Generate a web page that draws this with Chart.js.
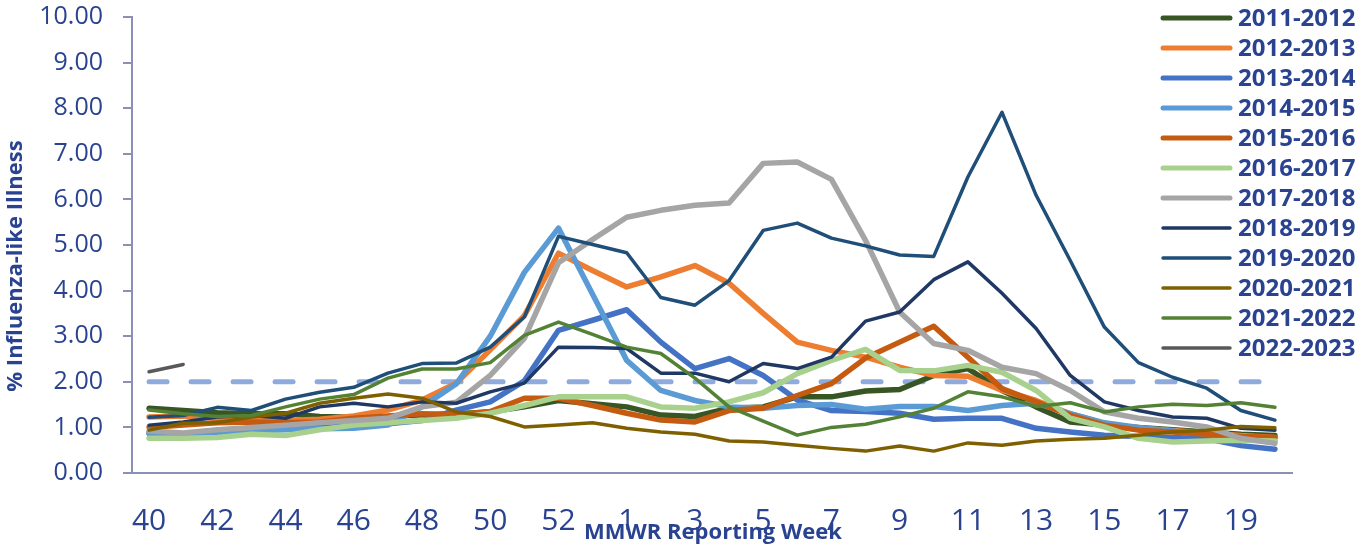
<!DOCTYPE html>
<html lang="en">
<head>
    <meta charset="UTF-8">
    <title>% Influenza-like Illness by MMWR Week</title>
    <script src="https://cdn.jsdelivr.net/npm/chart.js"></script>
    <style>
        html, body { margin: 0; padding: 0; background: #fff; }
        canvas { display: block; }
    </style>
</head>
<body>
<canvas id="iliChart" width="1359" height="546"></canvas>

<script>
    // MMWR weeks 40..53, 1..20
    const weeks = ['40','41','42','43','44','45','46','47','48','49','50','51','52','53',
                   '1','2','3','4','5','6','7','8','9','10','11','12','13','14','15','16','17','18','19','20'];

    const s1112 = [1.42,1.37,1.32,1.30,1.30,1.24,1.22,1.24,1.28,1.30,1.34,1.45,1.59,1.52,
                   1.45,1.27,1.24,1.42,1.45,1.67,1.67,1.80,1.83,2.14,2.29,1.81,1.45,1.12,1.05,1.00,0.95,0.90,0.85,0.82];
    const s1213 = [1.23,1.25,1.20,1.17,1.15,1.18,1.25,1.38,1.60,1.97,2.70,3.45,4.82,4.44,
                   4.08,4.30,4.55,4.16,3.50,2.87,2.69,2.54,2.32,2.14,2.12,1.81,1.59,1.30,1.09,0.98,0.93,0.88,0.82,0.78];
    const s1314 = [0.87,0.86,0.90,0.94,0.98,1.00,1.03,1.08,1.15,1.38,1.56,2.02,3.13,3.35,
                   3.58,2.87,2.29,2.51,2.14,1.60,1.37,1.35,1.31,1.18,1.20,1.20,0.98,0.90,0.83,0.80,0.78,0.75,0.60,0.52];
    const s1415 = [0.87,0.85,0.88,0.92,0.95,0.97,0.98,1.05,1.45,1.95,3.00,4.40,5.37,3.92,
                   2.47,1.81,1.59,1.45,1.42,1.48,1.50,1.40,1.46,1.46,1.37,1.48,1.53,1.30,1.10,1.00,0.92,0.85,0.76,0.70];
    const s1516 = [1.00,1.05,1.10,1.12,1.10,1.12,1.20,1.25,1.30,1.28,1.35,1.64,1.64,1.48,
                   1.31,1.16,1.12,1.37,1.42,1.70,1.96,2.52,2.87,3.22,2.54,1.85,1.56,1.27,1.05,0.94,0.90,0.85,0.80,0.78];
    const s1617 = [0.76,0.76,0.78,0.85,0.82,0.95,1.05,1.10,1.15,1.20,1.31,1.48,1.67,1.67,
                   1.67,1.45,1.42,1.56,1.76,2.18,2.47,2.71,2.25,2.24,2.36,2.21,1.81,1.20,1.01,0.76,0.68,0.70,0.72,0.70];
    const s1718 = [0.92,0.88,0.95,1.00,1.05,1.10,1.15,1.20,1.45,1.55,2.14,2.95,4.61,5.12,
                   5.61,5.76,5.87,5.92,6.79,6.82,6.44,5.10,3.53,2.84,2.69,2.32,2.18,1.81,1.34,1.20,1.12,1.01,0.76,0.65];
    const s1819 = [1.05,1.12,1.23,1.26,1.20,1.45,1.53,1.45,1.56,1.53,1.78,1.97,2.76,2.75,
                   2.73,2.19,2.19,2.00,2.40,2.29,2.54,3.33,3.53,4.24,4.63,3.94,3.17,2.14,1.56,1.37,1.23,1.20,0.98,0.94];
    const s1920 = [1.22,1.26,1.44,1.37,1.62,1.77,1.88,2.19,2.40,2.41,2.76,3.42,5.19,5.01,
                   4.83,3.85,3.68,4.22,5.32,5.48,5.15,4.98,4.78,4.75,6.49,7.91,6.09,4.66,3.20,2.42,2.10,1.86,1.37,1.16];
    const s2021 = [0.94,1.09,1.10,1.23,1.31,1.53,1.64,1.73,1.64,1.34,1.24,1.01,1.05,1.10,
                   0.98,0.90,0.85,0.70,0.68,0.61,0.54,0.48,0.59,0.48,0.66,0.61,0.70,0.74,0.76,0.83,0.90,0.94,1.02,0.99];
    const s2122 = [1.38,1.30,1.24,1.26,1.45,1.62,1.72,2.08,2.28,2.28,2.42,3.02,3.31,3.04,
                   2.76,2.62,2.08,1.45,1.14,0.83,1.00,1.07,1.23,1.42,1.78,1.67,1.46,1.54,1.34,1.45,1.51,1.48,1.54,1.44];
    const s2223 = [2.22,2.38];
    const baseline = weeks.map(() => 2.0);

    const seasons = ['2011-2012','2012-2013','2013-2014','2014-2015','2015-2016','2016-2017',
                     '2017-2018','2018-2019','2019-2020','2020-2021','2021-2022','2022-2023'];
    const seriesData = [s1112, s1213, s1314, s1415, s1516, s1617, s1718, s1819, s1920, s2021, s2122, s2223];
    const colors = ['#375623','#ED7D31','#4472C4','#5B9BD5','#C55A11','#A9D18E',
                    '#A5A5A5','#203864','#1F4E79','#7F6000','#548235','#595959'];
    const widths = [5.5,5.5,5.5,5.5,5.5,5.5,5.5,3.5,3.5,3.5,3.5,3.5];

    const textColor = '#2A4391';
    const axisColor = '#8B90B5';
    const fontFamily = '"Open Sans", "DejaVu Sans", sans-serif';

    const datasets = seasons.map((name, i) => ({
        label: name,
        data: seriesData[i],
        borderColor: colors[i],
        borderWidth: widths[i],
        order: 20 - i
    }));
    datasets.push({
        label: '',
        data: baseline,
        borderColor: '#8FAADC',
        borderWidth: 5,
        borderDash: [18, 24],
        borderCapStyle: 'round',
        order: 30
    });

    // legend at the right + axis titles
    const sideLegend = {
        id: 'sideLegend',
        afterDraw(chart) {
            const ctx = chart.ctx;
            ctx.save();
            ctx.lineCap = 'round';
            ctx.textBaseline = 'middle';
            ctx.textAlign = 'left';
            ctx.font = 'bold 24px ' + fontFamily;
            chart.data.datasets.forEach((ds, i) => {
                if (!ds.label) return;
                const y = 18 + i * 30;
                ctx.strokeStyle = ds.borderColor;
                ctx.lineWidth = Math.min(ds.borderWidth, 5);
                ctx.beginPath();
                ctx.moveTo(1163, y);
                ctx.lineTo(1230, y);
                ctx.stroke();
                ctx.fillStyle = textColor;
                ctx.fillText(ds.label, 1238, y + 1);
            });

            ctx.font = 'bold 22px ' + fontFamily;
            ctx.fillStyle = textColor;
            ctx.textAlign = 'center';
            ctx.fillText('MMWR Reporting Week', 713, 533);

            ctx.translate(16, 266);
            ctx.rotate(-Math.PI / 2);
            ctx.fillText('% Influenza-like Illness', 0, 0);
            ctx.restore();
        }
    };

    new Chart(document.getElementById('iliChart'), {
        type: 'line',
        data: { labels: weeks, datasets },
        plugins: [sideLegend],
        options: {
            responsive: false,
            animation: false,
            devicePixelRatio: 1,
            layout: { padding: { top: 17, right: 67, left: 0, bottom: 0 } },
            plugins: { legend: { display: false }, tooltip: { enabled: false } },
            elements: {
                point: { radius: 0 },
                line: { tension: 0, borderJoinStyle: 'round', borderCapStyle: 'round', fill: false }
            },
            scales: {
                x: {
                    offset: true,
                    grid: { display: false, drawTicks: false },
                    border: { display: true, color: axisColor, width: 2 },
                    ticks: {
                        autoSkip: false,
                        maxRotation: 0,
                        padding: 30,
                        color: textColor,
                        font: { family: fontFamily, size: 30 },
                        callback(value, index) {
                            return index % 2 === 0 ? this.getLabelForValue(value) : '';
                        }
                    },
                    afterFit(scale) {
                        scale.height = 73;
                        scale.paddingLeft = 0;
                        scale.paddingRight = 0;
                    }
                },
                y: {
                    min: 0,
                    max: 10,
                    grid: { drawOnChartArea: false, drawTicks: true, tickLength: 9, color: axisColor, lineWidth: 2 },
                    border: { display: true, color: axisColor, width: 2 },
                    ticks: {
                        stepSize: 1,
                        padding: 20,
                        color: textColor,
                        font: { family: fontFamily, size: 25 },
                        callback: v => v.toFixed(2)
                    },
                    afterFit(scale) {
                        scale.width = 132;
                        scale.paddingTop = 0;
                        scale.paddingBottom = 0;
                    }
                }
            }
        }
    });
</script>
</body>
</html>
